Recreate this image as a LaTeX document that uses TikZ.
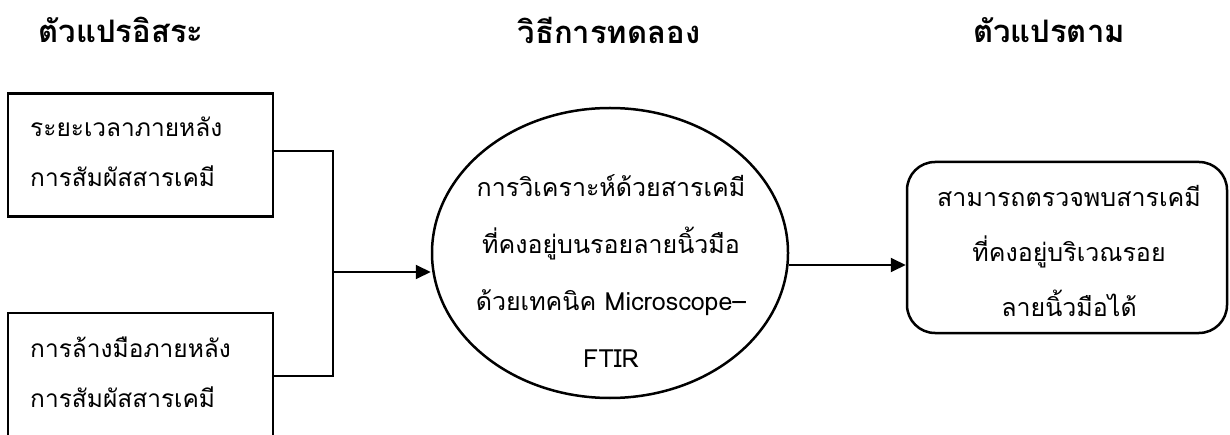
\documentclass[tikz,border=0pt]{standalone}
\usepackage{fontspec}
\newfontfamily\thaifont[Script=Thai]{Loma}
\usetikzlibrary{arrows.meta,shapes.geometric}
\begin{document}
\begin{tikzpicture}[x=1pt,y=-1pt,
  title/.style={font=\thaifont\bfseries\fontsize{31}{34}\selectfont, inner sep=0},
  body/.style={font=\thaifont\fontsize{24.5}{50}\selectfont, inner sep=0},
  sqbox/.style={draw, line width=2.5pt, inner sep=0},
  conn/.style={line width=1.9pt},
  arr/.style={conn, -{Triangle[length=15pt,width=14pt]}}]
\useasboundingbox (0,0) rectangle (1230,435);
\clip (0,0) rectangle (1230,435);
% titles
\node[title] (t1) at (121,30) {ตัวแปรอิสระ};
\node[title] (t2) at (609,30) {วิธีการทดลอง};
\node[title] (t3) at (1049,30) {ตัวแปรตาม};
% left boxes
\node[sqbox, minimum width=265pt, minimum height=123pt] (b1) at (140.5,155) {};
\node[body, anchor=west, align=left] (b1t) at (30,152) {ระยะเวลาภายหลัง\\การสัมผัสสารเคมี};
\node[sqbox, minimum width=265pt, minimum height=126pt] (b2) at (140.5,376) {};
\node[body, anchor=west, align=left] (b2t) at (30,372) {การล้างมือภายหลัง\\การสัมผัสสารเคมี};
% ellipse
\node[ellipse, draw, line width=2.5pt, minimum width=356pt, minimum height=290pt, inner sep=0] (ell) at (610,253) {};
\node[body, align=center, font=\thaifont\fontsize{25}{57}\selectfont] (ellt) at (611,271) {การวิเคราะห์ด้วยสารเคมี\\ที่คงอยู่บนรอยลายนิ้วมือ\\ด้วยเทคนิค Microscope–\\FTIR};
% rounded box
\node[sqbox, rounded corners=28pt, minimum width=320pt, minimum height=171pt] (rb) at (1067,247.5) {};
\node[body, align=center, font=\thaifont\fontsize{25}{55}\selectfont] (rbt) at (1069,251) {สามารถตรวจพบสารเคมี\\ที่คงอยู่บริเวณรอย\\ลายนิ้วมือได้};
% connectors
\coordinate (j) at (333,272);
\draw[conn] ([yshift=4pt]b1.east) -| (j) |- (b2.east);
\draw[arr] (j) -- (j -| ell.west);
\draw[arr] ([yshift=-12pt]ell.east) -- ([yshift=-12pt]ell.east -| rb.west);
\end{tikzpicture}
\end{document}
